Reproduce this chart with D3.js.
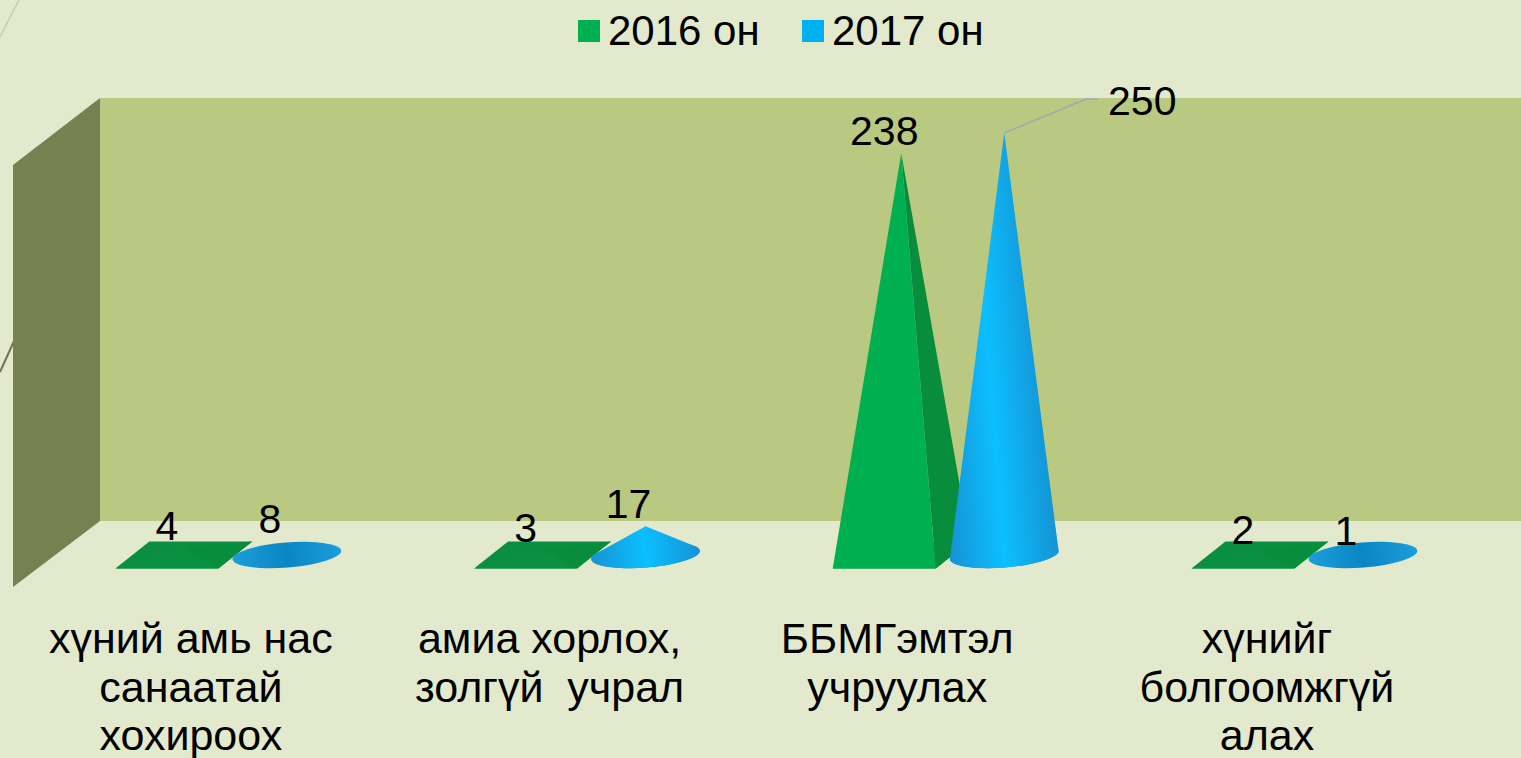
<!DOCTYPE html>
<html>
<head>
<meta charset="utf-8">
<script src="https://cdn.jsdelivr.net/npm/d3@7"></script>
<style>
  html, body { margin: 0; padding: 0; background: #e3e9cd; overflow: hidden; }
  svg { display: block; }
  text { font-family: "Liberation Sans", Arial, sans-serif; fill: #000; white-space: pre; }
</style>
</head>
<body>
<svg id="chart" width="1521" height="758"></svg>
<script>
const categories = [
  ["хүний амь нас", "санаатай", "хохироох"],
  ["амиа хорлох,", "золгүй  учрал"],
  ["ББМГэмтэл", "учруулах"],
  ["хүнийг", "болгоомжгүй", "алах"]
];
const seriesNames = ["2016 он", "2017 он"];
const values2016 = [4, 3, 238, 2];
const values2017 = [8, 17, 250, 1];

const width = 1521;
const height = 758;
const fontSize = 41;

const svg = d3.select("#chart");
const defs = svg.append("defs");

const catIndex = categories.map((d, i) => i);

const x0 = d3.scaleBand().domain(catIndex).range([11.5, 11.5 + 358.7 * 4]);
const x1 = d3.scaleBand().domain([0, 1]).range([-58.5, 147.5]);
const y = d3.scaleLinear().domain([0, 250]).range([555, 133]);

const center = (i, s) => x0(i) + x0.bandwidth() / 2 + x1(s) + x1.bandwidth() / 2;

// leftover slide decoration, sits behind the walls
svg.append("line").attr("x1", 19).attr("y1", 0).attr("x2", 0).attr("y2", 37)
  .attr("stroke", "#c8cbb8").attr("stroke-width", 1.5);
svg.append("line").attr("x1", 14).attr("y1", 341).attr("x2", 0).attr("y2", 372)
  .attr("stroke", "#7a6e55").attr("stroke-width", 2);

// walls
const wallTop = 98, wallBottom = 521, sideX = 13, backX = 100;
svg.append("rect").attr("x", backX).attr("y", wallTop)
  .attr("width", width - backX).attr("height", wallBottom - wallTop)
  .attr("fill", "#b9c981");
svg.append("path")
  .attr("d", d3.line()([[sideX, 165], [backX, wallTop], [backX, wallBottom], [sideX, 587]]) + "Z")
  .attr("fill", "#75814f");

// cone gradients
const grad = defs.append("linearGradient").attr("id", "coneFill")
  .attr("x1", 0).attr("x2", 1).attr("y1", 0).attr("y2", 0);
[[0, "#1593d3"], [0.5, "#0cbfff"], [1, "#1593d3"]].forEach(s =>
  grad.append("stop").attr("offset", s[0]).attr("stop-color", s[1]));
const gradBase = defs.append("linearGradient").attr("id", "discFill")
  .attr("x1", 0).attr("x2", 1).attr("y1", 0).attr("y2", 0);
[[0, "#1c9edb"], [0.5, "#0a86c4"], [1, "#1c9edb"]].forEach(s =>
  gradBase.append("stop").attr("offset", s[0]).attr("stop-color", s[1]));

// pyramids, 2016
const depthX = 17, depthY = 13.5, halfW = x1.bandwidth() / 2;
const pyramid = svg.append("g").selectAll("g").data(values2016).join("g");
const corners = (d, i) => {
  const c = center(i, 0), b = y(0);
  return {
    fl: [c - halfW - depthX, b + depthY],
    fr: [c + halfW - depthX, b + depthY],
    br: [c + halfW + depthX, b - depthY],
    bl: [c - halfW + depthX, b - depthY],
    tip: [c, y(d)]
  };
};
const frontColor = d3.scaleLinear().domain([0, 100]).range(["#0a8f40", "#00b050"]).clamp(true);
pyramid.append("path")
  .attr("d", (d, i) => { const p = corners(d, i); return d3.line()([p.fl, p.fr, p.br, p.bl]) + "Z"; })
  .attr("fill", "#0a8f40");
pyramid.append("path")
  .attr("d", (d, i) => { const p = corners(d, i); return d3.line()([p.fr, p.br, p.tip]) + "Z"; })
  .attr("fill", "#078d3c");
pyramid.append("path")
  .attr("d", (d, i) => { const p = corners(d, i); return d3.line()([p.fl, p.fr, p.tip]) + "Z"; })
  .attr("fill", d => frontColor(d));

// cones, 2017. base ellipse is tilted, tip stays straight above its centre
const rx = 54.5, ry = 12.5, tilt = -4.5;
const cone = svg.append("g").selectAll("g").data(values2017).join("g")
  .attr("transform", (d, i) => `translate(${center(i, 1)},${y(0)}) rotate(${tilt})`);
cone.append("ellipse").attr("rx", rx).attr("ry", ry).attr("fill", "url(#discFill)");
cone.filter(d => y(0) - y(d) > 2 * ry).append("path")
  .attr("d", d => {
    const h = y(0) - y(d);
    const a = -tilt * Math.PI / 180;
    // tip in the rotated frame
    const px = h * Math.sin(a), py = -h * Math.cos(a);
    // tangent points, worked out on the unit circle
    const qx = px / rx, qy = py / ry;
    const phi = Math.atan2(qy, qx), al = Math.acos(1 / Math.hypot(qx, qy));
    const r = [rx * Math.cos(phi + al), ry * Math.sin(phi + al)];
    const l = [rx * Math.cos(phi - al), ry * Math.sin(phi - al)];
    return `M${px},${py}L${r[0]},${r[1]}A${rx},${ry} 0 1 1 ${l[0]},${l[1]}Z`;
  })
  .attr("fill", "url(#coneFill)");

// data labels sit up and left of each tip
const labelDx = -17, labelDy = -8;
const labelData = [];
values2016.forEach((v, i) => labelData.push({ v, x: center(i, 0) + labelDx, y: y(v) + labelDy }));
values2017.forEach((v, i) => labelData.push({ v, x: center(i, 1) + labelDx, y: y(v) + labelDy, i }));

// 250 was dragged out in the original, with a leader line
const moved = labelData.find(d => d.v === d3.max(values2017));
const movedTip = [center(moved.i, 1), y(moved.v)];
moved.x = movedTip[0] + 138;
moved.y = movedTip[1] - 18;
svg.append("path")
  .attr("d", d3.line()([movedTip, [movedTip[0] + 82, movedTip[1] - 34], [movedTip[0] + 94, movedTip[1] - 34]]))
  .attr("fill", "none").attr("stroke", "#a5a6b2").attr("stroke-width", 1.5);

svg.append("g").selectAll("text").data(labelData).join("text")
  .attr("x", d => d.x).attr("y", d => d.y)
  .attr("text-anchor", "middle").attr("font-size", fontSize)
  .text(d => d.v);

// category labels, the third one is off centre in the original
const labelShift = [0, 0, -11, 0];
categories.forEach((lines, i) => {
  svg.append("text")
    .attr("text-anchor", "middle").attr("font-size", 43)
    .attr("y", 653)
    .selectAll("tspan").data(lines).join("tspan")
    .attr("x", x0(i) + x0.bandwidth() / 2 + labelShift[i])
    .attr("dy", (d, j) => j === 0 ? 0 : 48.5)
    .text(d => d);
});

// legend
const legendColors = ["#00b050", "#00b0f0"];
const legendX = d3.scaleOrdinal().domain(seriesNames).range([578, 802]);
const legend = svg.append("g").selectAll("g").data(seriesNames).join("g")
  .attr("transform", d => `translate(${legendX(d)},0)`);
legend.append("rect").attr("y", 20).attr("width", 22).attr("height", 22)
  .attr("fill", (d, i) => legendColors[i]);
legend.append("text").attr("x", 30).attr("y", 45).attr("font-size", 42).text(d => d);
</script>
</body>
</html>
